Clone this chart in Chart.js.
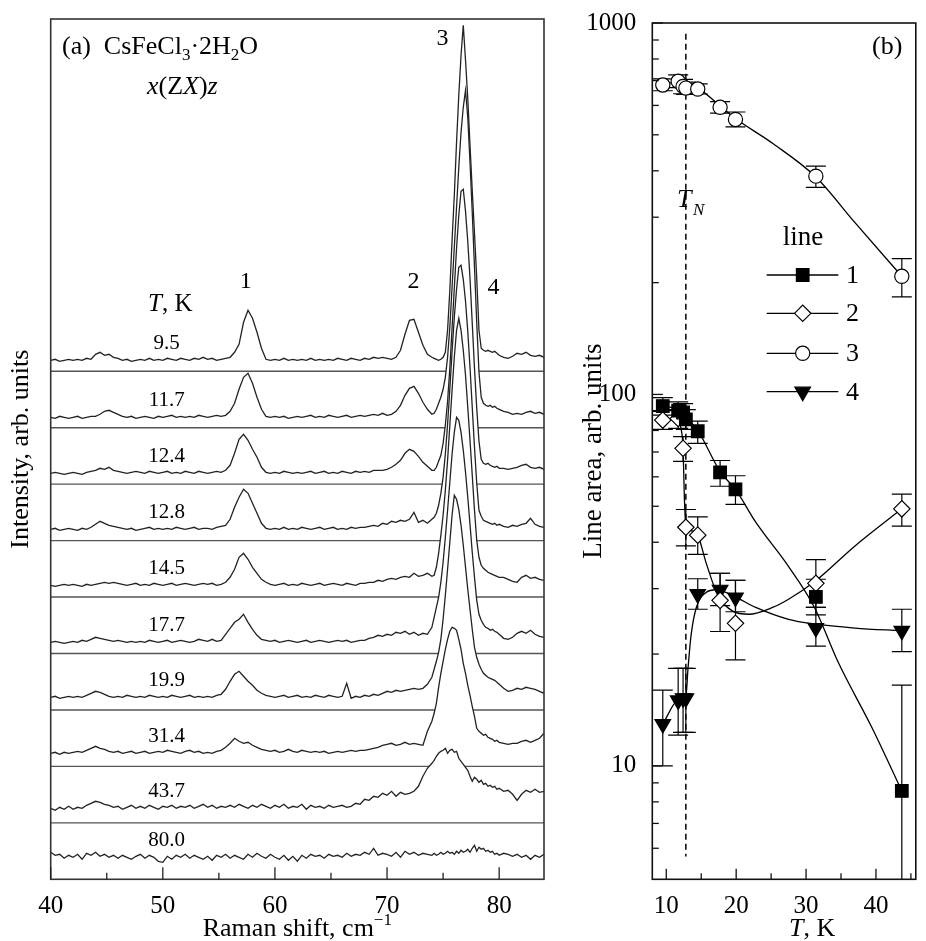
<!DOCTYPE html>
<html><head><meta charset="utf-8">
<script src="https://cdn.jsdelivr.net/npm/chart.js"></script>
<style>
html,body{margin:0;padding:0;background:#fff;}
#wrap{position:relative;width:926px;height:941px;overflow:hidden;}
#ca{position:absolute;left:0;top:0;}
#cb{position:absolute;left:560px;top:0;}
</style></head><body>
<div id="wrap"><canvas id="ca" width="560" height="941"></canvas><canvas id="cb" width="366" height="941"></canvas></div>
<script>
// ---------------- DATA: panel (a) Raman spectra ----------------
const ramanShift = [
 40,40.4,40.8,41.2,41.6, 42,42.4,42.8,43.2,43.6, 44,44.4,44.8,45.2,45.6, 46,46.4,46.8,47.2,47.6,
 48,48.4,48.8,49.2,49.6, 50,50.4,50.8,51.2,51.6, 52,52.4,52.8,53.2,53.6, 54,54.4,54.8,55.2,55.6,
 56,56.4,56.8,57.2,57.6, 58,58.4,58.8,59.2,59.6, 60,60.4,60.8,61.2,61.6, 62,62.4,62.8,63.2,63.6,
 64,64.4,64.8,65.2,65.6, 66,66.4,66.8,67.2,67.6, 68,68.4,68.8,69.2,69.6, 70,70.4,70.8,71.2,71.6,
 72,72.4,72.8,73.2,73.6, 74,
 74.2,74.4,74.6,74.8,75, 75.2,75.4,75.6,75.8,76, 76.2,76.4,76.6,76.8,77, 77.2,77.4,77.6,77.8,78,
 78.2,78.4,78.6,78.8,79, 79.2,79.4,79.6,79.8,80,
 80.4,80.8,81.2,81.6,82, 82.4,82.8,83.2,83.6,84
];
const temperatures = ['9.5','11.7','12.4','12.8','14.5','17.7','19.9','31.4','43.7','80.0'];
const baselineOffsets = [519, 462, 406, 350, 294, 237, 182, 126, 71, 22];

const s95 = [
 0,1,-1,0,1, 0,1,0,2,1, 6,8,5,6,3, 2,0,1,-1,0,
 1,0,2,0,1, 0,2,1,0,2, 1,0,2,1,3, 1,2,0,1,2,
 3,8,16,38,50, 42,28,12,1,0, 1,0,2,0,1, 0,1,0,2,0,
 1,0,1,0,2, 1,0,2,1,0, 2,1,3,2,3, 2,1,3,10,26,
 40,41,28,15,6, 3,
 2,1,0,1,3, 8,30,70,120,165, 218,265,305,335,300, 262,215,170,127,82,
 30,12,10,9,10, 9,8,9,7,5,
 3,2,4,7,6, 8,5,4,5,3];
const s117 = [
 0,-1,1,0,-1, 0,1,-1,0,1, 1,3,6,7,5, 3,1,0,1,-1,
 0,1,0,-1,1, 0,1,2,0,1, 0,1,0,2,1, 0,1,2,1,2,
 6,14,28,40,44, 34,20,8,1,0, 1,0,1,-1,0, 1,0,1,2,0,
 1,0,2,1,0, 1,2,0,1,2, 1,2,3,2,4, 2,3,6,12,22,
 29,31,24,15,8, 3,
 4,8,14,20,28, 40,60,90,130,170, 210,250,285,310,327, 300,255,205,150,95,
 45,20,14,12,11, 12,10,11,9,8,
 6,5,3,4,3, 5,6,4,5,3];
const s124 = [
 0,1,0,-1,0, 1,0,-1,1,2, 3,5,4,6,3, 2,1,0,1,2,
 1,0,2,1,0, 1,2,0,1,0, 2,1,0,2,1, 0,1,2,1,3,
 8,20,34,39,33, 24,16,6,1,0, 1,0,2,1,0, 1,0,1,2,0,
 1,2,0,1,0, 2,1,0,2,1, 2,1,3,3,3, 4,6,9,13,20,
 24,22,17,11,7, 3,
 3,6,12,18,30, 48,72,105,145,185, 225,258,282,284,262, 232,195,150,105,65,
 32,14,10,9,10, 8,7,6,7,5,
 5,4,5,6,8, 9,6,5,6,4];
const s128 = [
 0,1,-1,0,1, 0,-1,1,0,2, 5,8,6,4,3, 2,1,0,1,-1,
 0,1,2,0,1, 0,1,0,2,1, 0,1,2,0,1, 1,0,2,3,4,
 10,22,32,40,36, 26,16,6,1,0, 1,0,2,0,1, 0,2,1,0,1,
 2,0,1,2,0, 1,0,2,1,2, 2,3,4,3,6, 5,8,7,9,8,
 10,17,7,9,6, 10,
 12,16,24,36,52, 75,105,140,178,212, 240,262,264,250,228, 198,162,122,82,46,
 19,13,9,8,7, 6,5,6,4,5,
 3,2,4,3,5, 6,11,5,3,2];
const s145 = [
 0,-1,0,1,0, 1,0,-1,1,0, 1,2,3,2,3, 2,1,0,1,2,
 0,1,0,2,1, 0,1,2,0,1, 2,1,0,1,2, 1,2,0,1,3,
 8,16,28,32,26, 18,12,6,3,1, 0,1,2,0,1, 0,2,1,0,1,
 2,0,1,2,1, 0,2,1,0,2, 2,3,3,5,4, 6,7,6,8,9,
 8,12,9,10,12, 9,
 10,18,32,50,70, 95,125,160,195,228, 255,267,255,235,210, 178,145,110,75,45,
 28,20,17,15,13, 12,11,10,9,8,
 8,6,4,3,8, 10,7,8,6,5];
const s177 = [
 0,1,0,-1,0, 1,0,2,1,3, 5,4,3,2,1, 2,1,0,1,0,
 1,0,2,1,0, 1,2,0,1,2, 1,0,1,3,2, 1,3,1,2,8,
 14,20,23,28,20, 13,7,3,2,1, 2,0,1,2,1, 0,1,2,0,1,
 2,1,0,1,2, 1,2,0,1,2, 2,4,5,7,6, 8,7,10,9,11,
 8,10,7,9,8, 15,
 25,35,45,60,80, 105,132,160,188,210, 225,222,210,192,170, 145,118,90,65,42,
 28,22,18,15,14, 12,13,11,10,8,
 4,3,5,9,11, 9,12,8,6,5];
const s199 = [
 0,1,-1,0,1, 0,1,0,2,4, 6,5,3,1,0, 1,0,2,1,0,
 1,0,2,1,0, 1,0,2,1,0, 1,2,0,1,0, 1,0,2,3,8,
 16,23,26,21,16, 12,7,4,2,1, 0,1,2,0,1, 2,0,1,0,2,
 1,0,2,1,0, 1,14,-1,1,0, 2,1,3,2,4, 6,5,7,6,7,
 8,9,8,9,13, 20,
 28,36,45,58,78, 102,128,155,182,202, 198,188,172,152,130, 108,88,68,50,40,
 33,28,24,22,20, 19,18,17,15,13,
 9,6,7,9,8, 10,9,8,6,4];
const s314 = [
 0,1,-1,1,0, 1,2,1,3,5, 7,5,4,2,1, 2,0,1,2,0,
 1,2,0,1,2, 1,3,2,1,0, 2,3,1,2,0, 1,0,2,3,6,
 10,15,12,10,11, 8,6,4,3,2, 3,1,2,4,2, 1,3,2,1,2,
 1,2,0,1,2, 1,2,3,2,3, 3,4,5,6,8, 9,10,8,9,11,
 9,10,9,8,22, 32,
 40,50,66,80,92, 104,114,122,126,125, 123,114,104,90,80, 68,58,47,37,25,
 22,20,18,19,16, 15,14,12,13,11,
 10,9,10,10,12, 13,11,13,15,20];
const s437 = [
 0,-2,1,-1,2, -1,1,0,3,5, 7,6,4,3,1, 2,-1,1,3,0,
 2,0,3,1,-1, 2,1,3,0,2, 1,3,0,2,4, 1,3,0,2,1,
 3,1,4,2,0, 3,1,4,2,0, 3,1,4,0,2, 1,4,-1,3,1,
 2,0,3,1,2, 3,1,2,5,4, 9,8,12,11,15, 13,17,12,16,14,
 15,17,22,32,40, 45,
 48,52,55,57,58, 60,55,58,59,56, 57,50,47,44,41, 38,32,27,31,29,
 26,28,24,25,22, 23,21,22,19,20,
 17,18,14,8,14, 18,16,19,16,17];
const s800 = [
 5,2,3,-1,2, 0,3,-2,4,2, 5,1,3,0,2, -1,2,0,-2,1,
 3,-1,2,0,-4, -5,1,-2,2,0, 3,-1,2,0,-2, 1,-3,2,0,3,
 -1,2,0,-2,3, 0,4,1,-1,3, 0,-2,2,-3,1, -4,2,-1,3,1,
 2,-1,3,1,2, 0,4,1,3,2, 5,3,9,2,4, 3,1,5,0,6,
 3,5,2,4,3, 2,
 4,2,3,5,3, 4,6,4,5,3, 6,4,7,5,6, 8,5,9,12,6,
 10,8,9,6,7, 5,6,3,4,2,
 4,3,1,3,0, 2,-2,2,0,3];
const spectra = [s95, s117, s124, s128, s145, s177, s199, s314, s437, s800];

const xMajorA = [40, 50, 60, 70, 80];
const xMinorA = [45, 55, 65, 75];
const peakLabels = [{t:'1', x:57.4, yb:288}, {t:'2', x:72.35, yb:288}, {t:'3', x:74.95, yb:45}, {t:'4', x:79.5, yb:294}];

// ---------------- DATA: panel (b) line areas ----------------
const tempK = [9.5, 11.7, 12.4, 12.8, 14.5, 17.7, 19.9, 31.4, 43.7];
const area1 = [93, 90.4, 89.4, 85.7, 79.6, 61.7, 55.5, 28.5, 8.56];
const area1Lo = [88, 85.5, 84.5, 80.5, 73.8, 56.6, 50.6, 25.5, 0.6];
const area1Hi = [98, 95.5, 94.5, 91, 84.8, 66.4, 60.4, 31.8, 16.5];
const area2 = [85.3, 86.1, 71.6, 43.9, 41.8, 27.9, 24.2, 31.0, 49.2];
const area2Lo = [80.5, 81, 66, 39.1, 37.1, 23, 19.3, 26.7, 44.2];
const area2Hi = [90.5, 91, 77, 49, 46.8, 33, 31.6, 35.9, 53.9];
const area3 = [681, 697, 675, 668, 664, 593, 550, 387, 208];
const area3Lo = [657, 670, 645, 642, 644, 572, 525, 361, 183];
const area3Hi = [707, 725, 705, 693, 686, 614, 576, 412, 232];
const area4 = [12.96, 15.0, 15.2, 15.2, 29.0, 29.8, 28.4, 23.5, 23.1];
const area4Lo = [10, 12.1, 12.3, 12.3, 26.4, 27, 26, 21, 20.3];
const area4Hi = [16, 18.3, 18.3, 18.3, 31.9, 33, 31.6, 26.7, 26.4];

const fit1T = [9.5, 11.7, 12.8, 14.5, 17.7, 19.9, 22.8, 27.5, 31.2, 34.6, 39.4, 43.7];
const fit1V = [93, 91, 87, 80, 62, 55.5, 45.3, 34.4, 26.7, 19.0, 12.7, 8.56];
const fit2T = [9.5, 11.7, 12.1, 12.4, 12.6, 12.8, 13.5, 14.5, 15.7, 17.3, 19.5, 21.8, 25.2, 27.5, 31.2, 37.0, 43.7];
const fit2V = [85.5, 85.5, 81, 71.6, 52, 44.5, 43, 41.8, 35.2, 29, 26.1, 25.6, 26.7, 28.1, 31.3, 39.1, 49.2];
const fit3T = [9.5, 12, 14.5, 17.7, 19.9, 25.3, 31.4, 37, 43.7];
const fit3V = [690, 688, 668, 598, 553, 473, 385, 290, 208];
const fit4T = [9.5, 11.7, 12.8, 13.1, 13.55, 14.3, 15.7, 17.1, 19.6, 22.8, 27.5, 31.2, 37.0, 43.7];
const fit4V = [12.96, 15.0, 15.3, 18.2, 22.5, 26.7, 29.3, 29.8, 28.7, 26.7, 24.8, 24.1, 23.5, 23.1];

const neelT = 12.8;
const neelLineRange = [5.7, 935];
const xMajorB = [10, 20, 30, 40];
const xMinorB = [15, 25, 35, 45];
const yMajorB = [10, 100, 1000];
const yMinorB = [6, 7, 8, 9, 20, 30, 40, 50, 60, 70, 80, 90, 200, 300, 400, 500, 600, 700, 800, 900];
const legendNames = ['1', '2', '3', '4'];

// ---------------- helpers ----------------
const FONT = "'Liberation Serif', 'Times New Roman', serif";
function setFont(ctx, size, italic) { ctx.font = (italic ? 'italic ' : '') + size + 'px ' + FONT; }
function drawRich(ctx, x, y, parts, align) {
  let w = 0;
  parts.forEach(p => { setFont(ctx, p.s, p.i); p.w = ctx.measureText(p.t).width; w += p.w; });
  let cx = align === 'center' ? x - w / 2 : x;
  ctx.textAlign = 'left'; ctx.textBaseline = 'alphabetic'; ctx.fillStyle = '#000';
  parts.forEach(p => { setFont(ctx, p.s, p.i); ctx.fillText(p.t, cx, y + (p.dy || 0)); cx += p.w; });
}
function ticksX(ctx, scale, area, values, len) {
  values.forEach(v => { const p = scale.getPixelForValue(v); ctx.beginPath(); ctx.moveTo(p, area.bottom); ctx.lineTo(p, area.bottom - len); ctx.stroke(); });
}
function ticksY(ctx, scale, area, values, len) {
  values.forEach(v => { const p = scale.getPixelForValue(v); ctx.beginPath(); ctx.moveTo(area.left, p); ctx.lineTo(area.left + len, p); ctx.stroke(); });
}

// ---------------- panel (a) ----------------
const BAND = 56.45;
const datasetsA = [];
spectra.forEach((s, i) => {
  datasetsA.push({
    label: 'T = ' + temperatures[i] + ' K',
    data: ramanShift.map((x, j) => ({x: x, y: baselineOffsets[i] + s[j]})),
    borderColor: '#222', borderWidth: 1.3, pointRadius: 0, tension: 0,
    fill: 'origin', backgroundColor: '#ffffff', order: 100 - 2 * i
  });
  if (i < spectra.length - 1) {
    const ySep = BAND * (spectra.length - 1 - i);
    datasetsA.push({
      label: 'sep' + i, data: [{x: 40, y: ySep}, {x: 84, y: ySep}],
      borderColor: '#555', borderWidth: 1.4, pointRadius: 0, fill: false, order: 99 - 2 * i
    });
  }
});

const panelAPlugin = {
  id: 'panelA',
  afterDraw(chart) {
    const {ctx, chartArea: a, scales: {x, y}} = chart;
    ctx.save();
    ctx.strokeStyle = '#333'; ctx.lineWidth = 1.6;
    ctx.strokeRect(a.left, a.top, a.right - a.left, a.bottom - a.top);
    ctx.strokeStyle = '#222'; ctx.lineWidth = 1.3;
    ticksX(ctx, x, a, xMajorA, 12);
    ticksX(ctx, x, a, xMinorA, 6.5);
    drawRich(ctx, 62, 54, [{t:'(a)  CsFeCl', s:26}, {t:'3', s:17, dy:6}, {t:'\u00B72H', s:26}, {t:'2', s:17, dy:6}, {t:'O', s:26}]);
    drawRich(ctx, 147, 94, [{t:'x', s:26, i:true}, {t:'(Z', s:26}, {t:'X', s:26, i:true}, {t:')', s:26}, {t:'z', s:26, i:true}]);
    drawRich(ctx, 148, 311, [{t:'T', s:25, i:true}, {t:', K', s:25}]);
    peakLabels.forEach(p => drawRich(ctx, x.getPixelForValue(p.x), p.yb, [{t:p.t, s:24}], 'center'));
    temperatures.forEach((t, i) => drawRich(ctx, x.getPixelForValue(50.35), y.getPixelForValue(baselineOffsets[i] + 11), [{t:t, s:21}], 'center'));
    drawRich(ctx, (a.left + a.right) / 2, 936, [{t:'Raman shift, cm', s:26}, {t:'\u22121', s:17, dy:-11}], 'center');
    ctx.restore();
  }
};

new Chart(document.getElementById('ca'), {
  type: 'line',
  data: {datasets: datasetsA},
  options: {
    responsive: false, animation: false, devicePixelRatio: 1, events: [],
    layout: {padding: {top: 19, right: 16, left: 0, bottom: 0}},
    plugins: {legend: {display: false}, tooltip: {enabled: false}},
    scales: {
      x: {
        type: 'linear', min: 40, max: 84,
        afterBuildTicks: s => { s.ticks = xMajorA.map(v => ({value: v})); },
        afterFit: s => { s.height = 61.7; },
        ticks: {font: {family: FONT, size: 25}, color: '#000', padding: 4, maxRotation: 0, autoSkip: false},
        grid: {display: false}, border: {display: false}
      },
      y: {
        type: 'linear', min: 0, max: 860.3,
        afterFit: s => { s.width = 50.7; },
        ticks: {display: false}, grid: {display: false}, border: {display: false},
        title: {display: true, text: 'Intensity, arb. units', font: {family: FONT, size: 26}, color: '#000', padding: {top: 6, bottom: 0}}
      }
    }
  },
  plugins: [panelAPlugin]
});

// ---------------- panel (b) ----------------
const markerStyles = [
  {pointStyle: 'rect', radius: 8.9, rotation: 0, bg: '#000'},
  {pointStyle: 'rectRot', radius: 8.2, rotation: 0, bg: '#fff'},
  {pointStyle: 'circle', radius: 7.1, rotation: 0, bg: '#fff'},
  {pointStyle: 'triangle', radius: 9, rotation: 180, bg: '#000'}
];
const areas = [area1, area2, area3, area4];
const areasLo = [area1Lo, area2Lo, area3Lo, area4Lo];
const areasHi = [area1Hi, area2Hi, area3Hi, area4Hi];
const fitsT = [fit1T, fit2T, fit3T, fit4T];
const fitsV = [fit1V, fit2V, fit3V, fit4V];
const datasetsB = [];
fitsT.forEach((ft, k) => {
  datasetsB.push({
    label: 'fit ' + legendNames[k], data: ft.map((t, j) => ({x: t, y: fitsV[k][j]})),
    borderColor: '#000', borderWidth: 1.3, pointRadius: 0, fill: false,
    cubicInterpolationMode: 'monotone', order: 10
  });
});
areas.forEach((ar, k) => {
  const m = markerStyles[k];
  datasetsB.push({
    label: 'line ' + legendNames[k], data: tempK.map((t, j) => ({x: t, y: ar[j]})),
    showLine: false, pointStyle: m.pointStyle, pointRadius: m.radius, pointRotation: m.rotation,
    pointBackgroundColor: m.bg, pointBorderColor: '#000', pointBorderWidth: 1.2,
    errLo: areasLo[k], errHi: areasHi[k], order: 1
  });
});

const panelBPlugin = {
  id: 'panelB',
  beforeDatasetsDraw(chart) {
    const {ctx, chartArea: a, scales: {x, y}} = chart;
    ctx.save();
    ctx.beginPath(); ctx.rect(a.left, a.top, a.right - a.left, a.bottom - a.top); ctx.clip();
    ctx.strokeStyle = '#000'; ctx.lineWidth = 1.5; ctx.setLineDash([6, 4]);
    const tx = x.getPixelForValue(neelT);
    ctx.beginPath(); ctx.moveTo(tx, y.getPixelForValue(neelLineRange[1])); ctx.lineTo(tx, y.getPixelForValue(neelLineRange[0])); ctx.stroke();
    ctx.setLineDash([]); ctx.lineWidth = 1.2;
    chart.data.datasets.forEach(ds => {
      if (!ds.errLo) return;
      ds.data.forEach((p, i) => {
        const px = x.getPixelForValue(p.x);
        const lo = y.getPixelForValue(ds.errLo[i]), hi = y.getPixelForValue(ds.errHi[i]);
        ctx.beginPath();
        ctx.moveTo(px, lo); ctx.lineTo(px, hi);
        ctx.moveTo(px - 10, lo); ctx.lineTo(px + 10, lo);
        ctx.moveTo(px - 10, hi); ctx.lineTo(px + 10, hi);
        ctx.stroke();
      });
    });
    ctx.restore();
  },
  afterDraw(chart) {
    const {ctx, chartArea: a, scales: {x, y}} = chart;
    ctx.save();
    ctx.strokeStyle = '#111'; ctx.lineWidth = 1.6;
    ctx.strokeRect(a.left, a.top, a.right - a.left, a.bottom - a.top);
    ctx.lineWidth = 1.3;
    ticksX(ctx, x, a, xMajorB, 10.5);
    ticksX(ctx, x, a, xMinorB, 6);
    ticksY(ctx, y, a, yMajorB, 10.5);
    ticksY(ctx, y, a, yMinorB, 6.5);
    drawRich(ctx, 312, 54, [{t:'(b)', s:26}]);
    drawRich(ctx, 117, 207, [{t:'T', s:26, i:true}]);
    drawRich(ctx, 133, 215, [{t:'N', s:17, i:true}]);
    drawRich(ctx, 243, 245, [{t:'line', s:27}], 'center');
    const legY = [275, 313.3, 353.3, 391.7];
    legendNames.forEach((n, k) => {
      const yy = legY[k];
      ctx.strokeStyle = '#000'; ctx.lineWidth = 1.3;
      ctx.beginPath(); ctx.moveTo(206.7, yy); ctx.lineTo(278.3, yy); ctx.stroke();
      const m = markerStyles[k];
      ctx.fillStyle = m.bg; ctx.strokeStyle = '#000'; ctx.lineWidth = 1.2;
      Chart.helpers.drawPoint(ctx, {pointStyle: m.pointStyle, radius: m.radius, rotation: m.rotation, borderWidth: 1.2}, 242.7, yy);
      ctx.textBaseline = 'middle';
      setFont(ctx, 26, false); ctx.fillStyle = '#000'; ctx.textAlign = 'left';
      ctx.fillText(n, 286, yy + 1);
    });
    drawRich(ctx, 229, 936, [{t:'T', s:26, i:true}, {t:', K', s:26}]);
    ctx.restore();
  }
};

new Chart(document.getElementById('cb'), {
  type: 'line',
  data: {datasets: datasetsB},
  options: {
    responsive: false, animation: false, devicePixelRatio: 1, events: [],
    layout: {padding: {top: 18.7, right: 3.5, left: 0, bottom: 0}},
    plugins: {legend: {display: false}, tooltip: {enabled: false}},
    scales: {
      x: {
        type: 'linear', min: 8, max: 45.7,
        afterBuildTicks: s => { s.ticks = xMajorB.map(v => ({value: v})); },
        afterFit: s => { s.height = 61.7; },
        ticks: {font: {family: FONT, size: 25}, color: '#000', padding: 4, maxRotation: 0, autoSkip: false},
        grid: {display: false}, border: {display: false}
      },
      y: {
        type: 'logarithmic', min: 4.95, max: 1000,
        afterBuildTicks: s => { s.ticks = yMajorB.map(v => ({value: v})); },
        afterFit: s => { s.width = 92.3; },
        ticks: {font: {family: FONT, size: 25}, color: '#000', padding: 8, autoSkip: false, callback: v => String(v)},
        grid: {display: false}, border: {display: false},
        title: {display: true, text: 'Line area, arb. units', font: {family: FONT, size: 27}, color: '#000', padding: {top: 18, bottom: 0}}
      }
    }
  },
  plugins: [panelBPlugin]
});
</script>
</body></html>
